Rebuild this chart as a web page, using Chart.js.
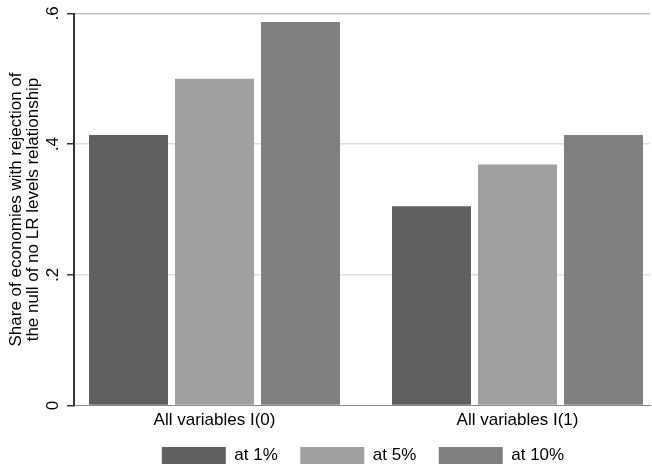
<!DOCTYPE html>
<html>
<head>
<meta charset="utf-8">
<title>Share of economies rejecting the null</title>
<script src="https://cdn.jsdelivr.net/npm/chart.js@4.4.1/dist/chart.umd.min.js"></script>
<style>
  html, body { margin: 0; padding: 0; background: #fff; }
  #wrap { width: 652px; height: 465px; }
</style>
</head>
<body>
<div id="wrap"><canvas id="barChart" width="652" height="465"></canvas></div>
<script>
// chart data
const categories = ['All variables I(0)', 'All variables I(1)'];
const seriesNames = ['at 1%', 'at 5%', 'at 10%'];
const at1 = [0.414, 0.305];
const at5 = [0.500, 0.369];
const at10 = [0.587, 0.414];
const yTicks = [0, 0.2, 0.4, 0.6];
const yTickLabels = ['0', '.2', '.4', '.6'];
const yTitle = ['Share of economies with rejection of', 'the null of no LR levels relationship'];

const barColors = ['#606060', '#a0a0a0', '#808080'];
const FONT = '"Liberation Sans", Arial, Helvetica, sans-serif';

const seriesValues = [at1, at5, at10];
const datasets = seriesNames.map((name, s) => ({
  label: name,
  data: seriesValues[s].map((v, i) => ({ x: i, y: v })),
  backgroundColor: barColors[s],
  borderWidth: 0,
  categoryPercentage: 0.8515,
  barPercentage: 0.9186
}));

// Stata puts the legend a bit right of centre and tight under the axis labels
const legendShift = {
  id: 'legendShift',
  afterLayout(chart) {
    const lg = chart.legend;
    lg.left += 38;
    lg.right += 38;
    lg.top -= 4.5;
    lg.bottom -= 4.5;
  }
};

new Chart(document.getElementById('barChart'), {
  type: 'bar',
  data: { datasets },
  plugins: [legendShift],
  options: {
    responsive: false,
    animation: false,
    layout: { padding: { top: 13.5, right: 2, bottom: -13.5, left: 0 } },
    plugins: {
      tooltip: { enabled: false },
      legend: {
        position: 'bottom',
        labels: {
          boxWidth: 64,
          boxHeight: 17,
          padding: 22.5,
          color: '#000',
          font: { family: FONT, size: 17 }
        }
      }
    },
    scales: {
      x: {
        type: 'linear',
        min: -0.4637,
        max: 1.4373,
        offset: false,
        afterBuildTicks: (scale) => {
          scale.ticks = categories.map((c, i) => ({ value: i }));
        },
        afterFit: (scale) => {
          scale.height = 23.5;
          scale.paddingLeft = 0;
          scale.paddingRight = 0;
        },
        ticks: {
          callback: (v, i) => categories[i],
          autoSkip: false,
          maxRotation: 0,
          padding: 6.5,
          color: '#000',
          font: { family: FONT, size: 17, lineHeight: 1 }
        },
        grid: { display: false, drawTicks: false },
        border: { color: '#8a8a8a', width: 1 }
      },
      y: {
        min: 0,
        max: 0.6,
        afterBuildTicks: (scale) => {
          scale.ticks = yTicks.map(v => ({ value: v }));
        },
        afterFit: (scale) => {
          scale.width = 74;
          scale.paddingTop = 0;
          scale.paddingBottom = 0;
        },
        ticks: {
          callback: (v, i) => yTickLabels[i],
          minRotation: 90,
          maxRotation: 90,
          crossAlign: 'center',
          padding: 7,
          color: '#000',
          font: { family: FONT, size: 17, lineHeight: 1 }
        },
        grid: {
          color: (ctx) => {
            if (!ctx.tick) return '#dedede';
            if (ctx.tick.value === 0) return 'rgba(0,0,0,0)';
            return ctx.tick.value === yTicks[yTicks.length - 1] ? '#c2c2c2' : '#dedede';
          },
          lineWidth: 1.5,
          tickColor: '#333',
          tickLength: 7
        },
        border: { color: '#333', width: 2 },
        title: {
          display: true,
          text: yTitle,
          color: '#000',
          font: { family: FONT, size: 17, lineHeight: 1 },
          padding: { top: 8, bottom: 0 }
        }
      }
    }
  }
});
</script>
</body>
</html>
